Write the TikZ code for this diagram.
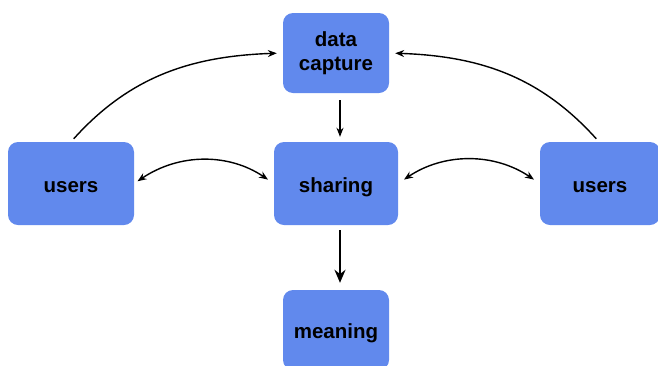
\documentclass[tikz,border=0pt]{standalone}
\usepackage{fontspec}
\setmainfont{Liberation Sans}
\usetikzlibrary{arrows.meta}
\definecolor{boxblue}{RGB}{97,137,237}
\begin{document}
\begin{tikzpicture}[x=1pt,y=1pt,
  box/.style={fill=boxblue, rounded corners=10pt, inner sep=0pt,
    font=\fontsize{20.5}{23.5}\selectfont\bfseries},
  oneline/.style={box, text height=17pt, text depth=0pt},
  arr/.style={-{Stealth[length=9pt,width=7pt]}, line width=1.4pt, black},
  darr/.style={{Stealth[length=9pt,width=7pt]}-{Stealth[length=9pt,width=7pt]}, line width=1.4pt, black},
  tarr/.style={-{Stealth[length=13pt,width=11pt]}, line width=2.6pt, black}]
\useasboundingbox (0,0) rectangle (658,-365);
\clip (0,0) rectangle (658,-365);
\node[box, align=center, minimum width=106pt, minimum height=80pt] (dc) at (336,-53) {data\\capture};
\node[oneline, minimum width=126pt, minimum height=83pt] (lu) at (71,-183.5) {users};
\node[oneline, minimum width=124pt, minimum height=83pt] (sh) at (336,-183.5) {sharing};
\node[oneline, minimum width=120pt, minimum height=83pt] (ru) at (600,-183.5) {users};
\node[oneline, minimum width=106pt, minimum height=80pt] (me) at (336,-330) {meaning};
\draw[arr, shorten <=7pt, shorten >=5pt] ([xshift=4pt]dc.south) -- ([xshift=4pt]sh.north);
\draw[tarr, shorten <=5pt, shorten >=7pt] ([xshift=4pt]sh.south) -- ([xshift=4pt]me.north);
\draw[darr, shorten <=4pt, shorten >=7pt] (lu.east) to[bend left=34] (sh.west);
\draw[darr, shorten <=7pt, shorten >=7pt] (sh.east) to[bend left=34] (ru.west);
\draw[arr, shorten <=4pt, shorten >=6pt] (lu.north) to[out=48, in=182] (dc.west);
\draw[arr, shorten <=4pt, shorten >=6pt] ([xshift=-1pt]ru.north) to[out=132, in=-2] (dc.east);
\end{tikzpicture}
\end{document}
